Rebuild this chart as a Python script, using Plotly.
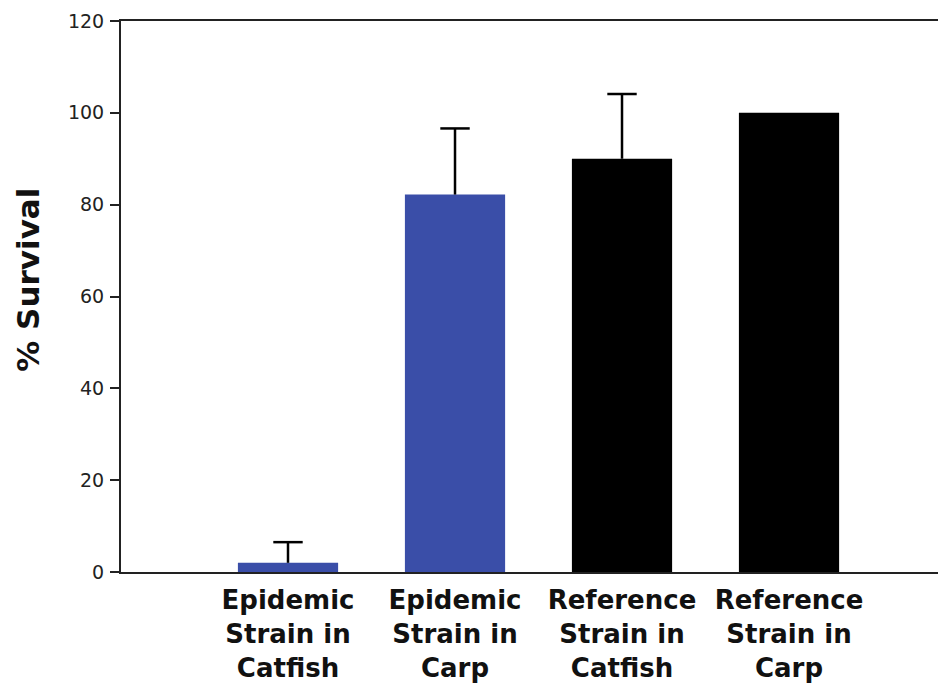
import plotly.graph_objects as go

categories = ["Epidemic<br>Strain in<br>Catfish", "Epidemic<br>Strain in<br>Carp",
              "Reference<br>Strain in<br>Catfish", "Reference<br>Strain in<br>Carp"]
survival = [2.0, 82.2, 90.0, 100.0]
error_up = [4.5, 14.4, 14.1, 0.0]
bar_colors = ["#3a4ea8", "#3a4ea8", "#000000", "#000000"]
y_ticks = [0, 20, 40, 60, 80, 100, 120]
y_title = "% Survival"

x_pos = list(range(len(categories)))

fig = go.Figure()
fig.add_trace(go.Bar(
    x=x_pos, y=survival, width=0.6,
    marker=dict(color=bar_colors, line=dict(width=0)),
    error_y=dict(type="data", array=error_up, arrayminus=[0] * len(error_up),
                 symmetric=False, color="#000000", thickness=2.5, width=0),
    showlegend=False,
))

# caps on top of the upper error bars only
cap_x = [x for x, e in zip(x_pos, error_up) if e > 0]
cap_y = [v + e for v, e in zip(survival, error_up) if e > 0]
fig.add_trace(go.Scatter(
    x=cap_x, y=cap_y, mode="markers",
    marker=dict(symbol="line-ew", size=21, line=dict(color="#000000", width=2.5)),
    showlegend=False, hoverinfo="skip",
))

fig.add_annotation(
    text="<b>" + y_title + "</b>", xref="paper", yref="paper",
    x=-0.113, y=0.53, xanchor="center", yanchor="middle", textangle=-90,
    showarrow=False,
    font=dict(size=31, color="#111", family="DejaVu Sans, Arial, sans-serif"),
)

fig.update_layout(
    width=938, height=677,
    margin=dict(l=113, r=0, t=13, b=113),
    paper_bgcolor="white", plot_bgcolor="white",
    font=dict(family="DejaVu Sans, Arial, sans-serif", color="#111"),
    xaxis=dict(
        range=[-1, 3.94], tickmode="array", tickvals=x_pos, ticktext=categories,
        showline=True, linecolor="#222", linewidth=2, mirror=True,
        ticks="", showgrid=False, zeroline=False,
        tickfont=dict(size=26, color="#111", family="DejaVu Sans, Arial, sans-serif", weight="bold"),
        ticklabelstandoff=4,
    ),
    yaxis=dict(
        range=[0, 120], tickmode="array", tickvals=y_ticks,
        showline=True, linecolor="#222", linewidth=2,
        ticks="outside", ticklen=9, tickwidth=2, tickcolor="#222",
        showgrid=False, zeroline=False,
        tickfont=dict(size=19, color="#222", family="DejaVu Sans, Arial, sans-serif"),
        ticklabelstandoff=2,
    ),
)

fig.write_html("out.html")
